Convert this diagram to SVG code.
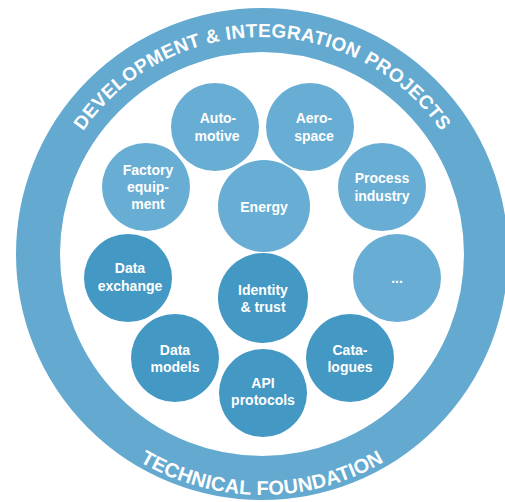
<svg xmlns="http://www.w3.org/2000/svg" xmlns:xlink="http://www.w3.org/1999/xlink" width="505" height="502" viewBox="0 0 505 502">
  <style>
    .ring { fill: none; stroke: #63a9d0; stroke-width: 44; }
    .light { fill: #68add3; }
    .dark { fill: #4398c4; }
    .lbl { font-family: "Liberation Sans", Arial, sans-serif; font-weight: bold; font-size: 14px; fill: #ffffff; text-anchor: middle; }
    .ringtxt { font-family: "Liberation Sans", Arial, sans-serif; font-weight: bold; fill: #ffffff; }
    .top { font-size: 19px; letter-spacing: 0.4px; }
    .bot { font-size: 20px; letter-spacing: 0.2px; }
  </style>
  <defs>
    <path id="topArc" d="M 45,254 A 217 217 0 0 1 479,254"/>
    <path id="botArc" d="M 21,254 A 241 241 0 0 0 503,254"/>
  </defs>
  <rect width="505" height="502" fill="#ffffff"/>

  <g id="ring">
    <circle class="ring" cx="262" cy="254" r="224"/>
    <text class="ringtxt top"><textPath xlink:href="#topArc" href="#topArc" startOffset="130.4">DEVELOPMENT</textPath></text>
    <text class="ringtxt top"><textPath xlink:href="#topArc" href="#topArc" startOffset="285.1">&amp;</textPath></text>
    <text class="ringtxt top"><textPath xlink:href="#topArc" href="#topArc" startOffset="304.9">INTEGRATION</textPath></text>
    <text class="ringtxt top"><textPath xlink:href="#topArc" href="#topArc" startOffset="445.9">PROJECTS</textPath></text>
    <text class="ringtxt bot"><textPath xlink:href="#botArc" href="#botArc" startOffset="50%" text-anchor="middle">TECHNICAL FOUNDATION</textPath></text>
  </g>

  <g id="connectors"></g>

  <g id="automotive">
    <circle class="light" cx="215" cy="127" r="44"/>
    <text class="lbl" x="218" y="123">Auto-</text>
    <text class="lbl" x="217" y="141">motive</text>
  </g>
  <g id="aerospace">
    <circle class="light" cx="310" cy="127" r="44"/>
    <text class="lbl" x="314" y="123">Aero-</text>
    <text class="lbl" x="314" y="141">space</text>
  </g>
  <g id="factory">
    <circle class="light" cx="146" cy="187" r="44"/>
    <text class="lbl" x="148" y="175">Factory</text>
    <text class="lbl" x="148" y="192">equip-</text>
    <text class="lbl" x="148" y="209">ment</text>
  </g>
  <g id="energy">
    <circle class="light" cx="264" cy="206" r="46"/>
    <text class="lbl" x="264" y="212">Energy</text>
  </g>
  <g id="process">
    <circle class="light" cx="382" cy="187" r="44"/>
    <text class="lbl" x="382" y="183">Process</text>
    <text class="lbl" x="382" y="201">industry</text>
  </g>
  <g id="more">
    <circle class="light" cx="397" cy="278" r="44"/>
    <text class="lbl" x="397" y="283">...</text>
  </g>
  <g id="data-exchange">
    <circle class="dark" cx="128" cy="278" r="44"/>
    <text class="lbl" x="130" y="273">Data</text>
    <text class="lbl" x="130" y="291">exchange</text>
  </g>
  <g id="identity">
    <circle class="dark" cx="263" cy="298" r="45"/>
    <text class="lbl" x="263" y="295">Identity</text>
    <text class="lbl" x="263" y="312">&amp; trust</text>
  </g>
  <g id="data-models">
    <circle class="dark" cx="175" cy="358" r="44"/>
    <text class="lbl" x="175" y="355">Data</text>
    <text class="lbl" x="175" y="372">models</text>
  </g>
  <g id="api">
    <circle class="dark" cx="263" cy="393" r="44"/>
    <text class="lbl" x="263" y="388">API</text>
    <text class="lbl" x="263" y="405">protocols</text>
  </g>
  <g id="catalogues">
    <circle class="dark" cx="350" cy="358" r="44"/>
    <text class="lbl" x="350" y="355">Cata-</text>
    <text class="lbl" x="350" y="372">logues</text>
  </g>
</svg>
